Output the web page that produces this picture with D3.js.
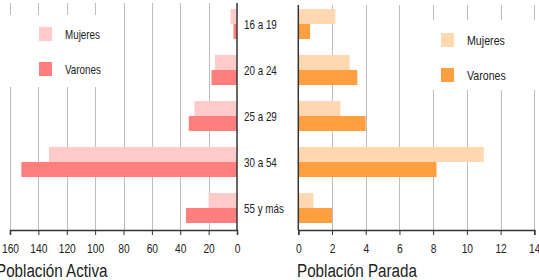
<!DOCTYPE html>
<html>
<head>
<meta charset="utf-8">
<script src="https://cdn.jsdelivr.net/npm/d3@7"></script>
<style>
  body { margin: 0; background: #fff; }
  svg { display: block; font-family: "Liberation Sans", Arial, sans-serif; }
</style>
</head>
<body>
<script>
var grupos = ["16 a 19", "20 a 24", "25 a 29", "30 a 54", "55 y más"];
var series = ["Mujeres", "Varones"];
var activaMujeres = [4.5, 15.5, 30, 132.5, 20];
var activaVarones = [2.5, 18, 34, 152, 36];
var paradaMujeres = [2.2, 3.05, 2.5, 11, 0.9];
var paradaVarones = [0.7, 3.5, 4, 8.2, 2];
var activaTicks = [0, 20, 40, 60, 80, 100, 120, 140, 160];
var paradaTicks = [0, 2, 4, 6, 8, 10, 12, 14];

var width = 539, height = 280;
var narrow = 0.82; // fake Arial Narrow by squeezing Liberation Sans

var svg = d3.select("body")
    .append("svg")
    .attr("width", width)
    .attr("height", height);

var yScale = d3.scaleBand()
    .domain(grupos)
    .range([1, 231])
    .paddingInner(0.348)
    .paddingOuter(0.174);

var ySub = d3.scaleBand()
    .domain(series)
    .range([0, yScale.bandwidth()]);

// condensed text placed at x,y
function label(parent, x, y, txt, size, sx) {
    return parent.append("text")
        .attr("transform", "translate(" + x + "," + y + ") scale(" + (sx || narrow) + ",1)")
        .style("font-size", size + "px")
        .attr("fill", "#222")
        .text(txt);
}

function panel(opts) {
    var x = d3.scaleLinear().domain([0, opts.max]).range(opts.range);
    var g = svg.append("g");

    // gridlines
    g.selectAll("line.grid")
        .data(opts.ticks.filter(function(t) { return t != 0; }))
        .enter()
        .append("line")
        .attr("class", "grid")
        .attr("x1", function(d) { return Math.round(x(d)) + 0.5; })
        .attr("x2", function(d) { return Math.round(x(d)) + 0.5; })
        .attr("y1", opts.top)
        .attr("y2", 230)
        .attr("stroke", "#bdbdbd")
        .attr("stroke-width", 1);

    // white box behind the legend
    g.append("rect")
        .attr("x", opts.legend.x)
        .attr("y", opts.legend.y)
        .attr("width", opts.legend.w)
        .attr("height", opts.legend.h)
        .attr("fill", "#fff");

    // bars
    var rows = grupos.map(function(c, i) {
        return [{cat: c, s: "Mujeres", v: opts.mujeres[i]}, {cat: c, s: "Varones", v: opts.varones[i]}];
    });
    g.selectAll("rect.bar")
        .data(d3.merge(rows))
        .enter()
        .append("rect")
        .attr("class", "bar")
        .attr("x", function(d) { return Math.min(x(0), x(d.v)); })
        .attr("width", function(d) { return Math.abs(x(d.v) - x(0)); })
        .attr("y", function(d) { return yScale(d.cat) + ySub(d.s); })
        .attr("height", ySub.bandwidth())
        .attr("fill", function(d) { return d.s == "Mujeres" ? opts.colors[0] : opts.colors[1]; });

    // bottom axis
    var axis = g.append("g")
        .attr("transform", "translate(0,230)")
        .call(d3.axisBottom(x).tickValues(opts.ticks).tickSize(5).tickFormat(d3.format("d")));
    axis.select(".domain").attr("stroke", "#333").attr("stroke-width", 1.5);
    axis.selectAll(".tick line").attr("stroke", "#333");
    axis.selectAll(".tick text")
        .attr("y", 0)
        .attr("dy", 0)
        .attr("transform", "translate(0,23) scale(" + narrow + ",1)")
        .style("font-size", "12.5px")
        .attr("fill", "#222");

    // vertical axis line
    g.append("line")
        .attr("x1", x(0)).attr("x2", x(0))
        .attr("y1", opts.top).attr("y2", 230)
        .attr("stroke", "#333")
        .attr("stroke-width", 1.5);

    // legend
    series.forEach(function(s, i) {
        g.append("rect")
            .attr("x", opts.legend.sx)
            .attr("y", opts.legend.sy + i * 35)
            .attr("width", 13)
            .attr("height", 14)
            .attr("fill", opts.colors[i]);
        label(g, opts.legend.sx + 26, opts.legend.sy + 11.5 + i * 35, s, opts.legend.fs);
    });

    // title
    label(g, opts.titleX, 277, opts.title, 19, 0.8);
}

panel({
    max: 160, range: [237, 10], ticks: activaTicks, top: 3,
    mujeres: activaMujeres, varones: activaVarones,
    colors: ["#ffcaca", "#ff7f7f"],
    legend: {x: 3, y: 15, w: 108, h: 72, sx: 39, sy: 27, fs: 12},
    title: "Población Activa", titleX: -4
});

panel({
    max: 14, range: [298.3, 534.3], ticks: paradaTicks, top: 5,
    mujeres: paradaMujeres, varones: paradaVarones,
    colors: ["#ffd8b2", "#ff9f40"],
    legend: {x: 420, y: 20, w: 119, h: 70, sx: 441, sy: 33, fs: 13},
    title: "Población Parada", titleX: 297
});

// category labels between the panels
grupos.forEach(function(d) {
    label(svg, 244, yScale(d) + yScale.bandwidth() / 2 + 4.5, d, 12);
});
</script>
</body>
</html>
